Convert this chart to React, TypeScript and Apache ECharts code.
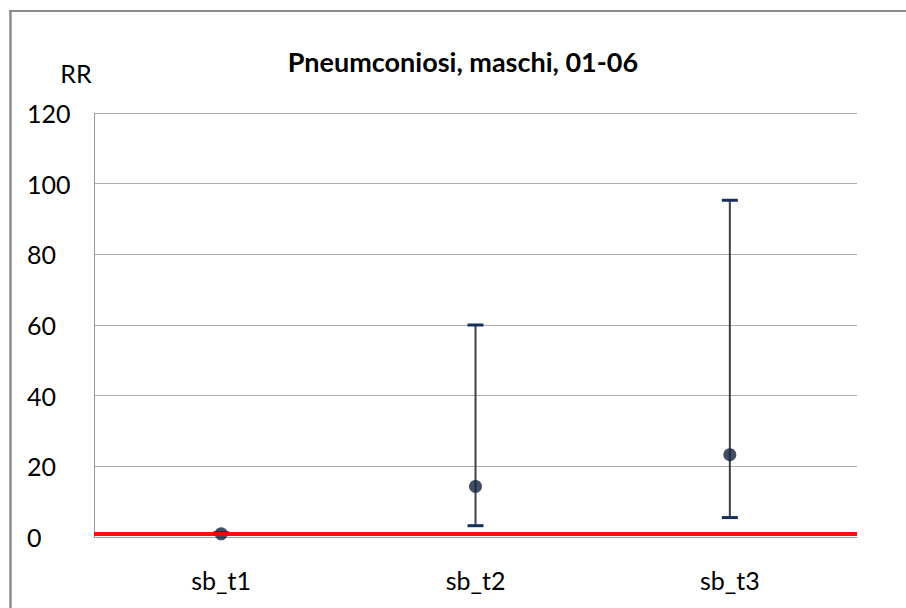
import React, { useEffect, useRef } from "react";
import * as echarts from "echarts";

const categories = ["sb_t1", "sb_t2", "sb_t3"];
const rrValues = [0.9, 14.3, 23.3];
const ciLow = [0.7, 3.2, 5.5];
const ciHigh = [1.2, 60, 95.3];
const yTicks = { min: 0, max: 120, interval: 20 };
const referenceRR = 1;
const titleText = "Pneumconiosi, maschi, 01-06";
const yAxisTitle = "RR";

const FONT = "Lato, 'Open Sans', sans-serif";

export default function App() {
  const ref = useRef<HTMLDivElement>(null);
  useEffect(() => {
    if (!ref.current) return;
    document.body.style.margin = "0";
    document.body.style.overflow = "hidden";
    document.documentElement.style.overflow = "hidden";
    const chart = echarts.init(ref.current, null, { renderer: "svg" });
    const errData = categories.map((_, i) => [i, ciLow[i], ciHigh[i]]);
    chart.setOption({
      animation: false,
      backgroundColor: "#ffffff",
      grid: { left: 94, right: 49, top: 113, bottom: 71, containLabel: false },
      graphic: [
        {
          type: "line",
          shape: { x1: 9, y1: 11, x2: 906, y2: 11 },
          style: { stroke: "#8c8c8c", lineWidth: 2 },
          silent: true,
        },
        {
          type: "line",
          shape: { x1: 10.5, y1: 10, x2: 10.5, y2: 608 },
          style: { stroke: "#8c8c8c", lineWidth: 2.5 },
          silent: true,
        },
        {
          type: "text",
          style: {
            text: titleText,
            x: 463,
            y: 61,
            textAlign: "center",
            textVerticalAlign: "middle",
            font: `bold 27px ${FONT}`,
            fill: "#000000",
          },
        },
        {
          type: "text",
          style: {
            text: yAxisTitle,
            x: 76,
            y: 73,
            textAlign: "center",
            textVerticalAlign: "middle",
            font: `25px ${FONT}`,
            fill: "#000000",
          },
        },
      ],
      xAxis: {
        type: "category",
        data: categories,
        boundaryGap: true,
        axisLine: { show: true, lineStyle: { color: "#9a9a9a", width: 1 } },
        axisTick: { show: false },
        axisLabel: { color: "#000", fontFamily: FONT, fontSize: 25, margin: 30 },
        splitLine: { show: false },
      },
      yAxis: {
        type: "value",
        min: yTicks.min,
        max: yTicks.max,
        interval: yTicks.interval,
        axisLine: { show: true, lineStyle: { color: "#9a9a9a", width: 1 } },
        axisTick: { show: false },
        axisLabel: {
          color: "#000",
          fontFamily: FONT,
          fontSize: 25,
          margin: 67,
          align: "left",
        },
        splitLine: { show: true, lineStyle: { color: "#ababab", width: 1 } },
      },
      series: [
        {
          type: "custom",
          z: 2,
          data: errData,
          encode: { x: 0, y: [1, 2] },
          renderItem: (params: any, api: any) => {
            const x = api.value(0);
            const lo = api.coord([x, api.value(1)]);
            const hi = api.coord([x, api.value(2)]);
            const hw = 8;
            return {
              type: "group",
              children: [
                {
                  type: "line",
                  shape: { x1: lo[0], y1: lo[1], x2: hi[0], y2: hi[1] },
                  style: { stroke: "#404040", lineWidth: 2 },
                },
                {
                  type: "line",
                  shape: { x1: lo[0] - hw, y1: lo[1], x2: lo[0] + hw, y2: lo[1] },
                  style: { stroke: "#17305a", lineWidth: 3 },
                },
                {
                  type: "line",
                  shape: { x1: hi[0] - hw, y1: hi[1], x2: hi[0] + hw, y2: hi[1] },
                  style: { stroke: "#17305a", lineWidth: 3 },
                },
              ],
            };
          },
        },
        {
          type: "scatter",
          z: 3,
          data: rrValues,
          symbol: "circle",
          symbolSize: 13,
          itemStyle: { color: "#12223d" },
        },
        {
          type: "line",
          z: 5,
          data: [],
          markLine: {
            silent: true,
            symbol: ["none", "none"],
            label: { show: false },
            lineStyle: { color: "#ff0000", width: 4, type: "solid", opacity: 0.95 },
            data: [{ yAxis: referenceRR }],
          },
        },
      ],
    });
    return () => chart.dispose();
  }, []);
  return (
    <div
      ref={ref}
      style={{ position: "fixed", left: 0, top: 0, width: 906, height: 608, background: "#fff" }}
    />
  );
}
